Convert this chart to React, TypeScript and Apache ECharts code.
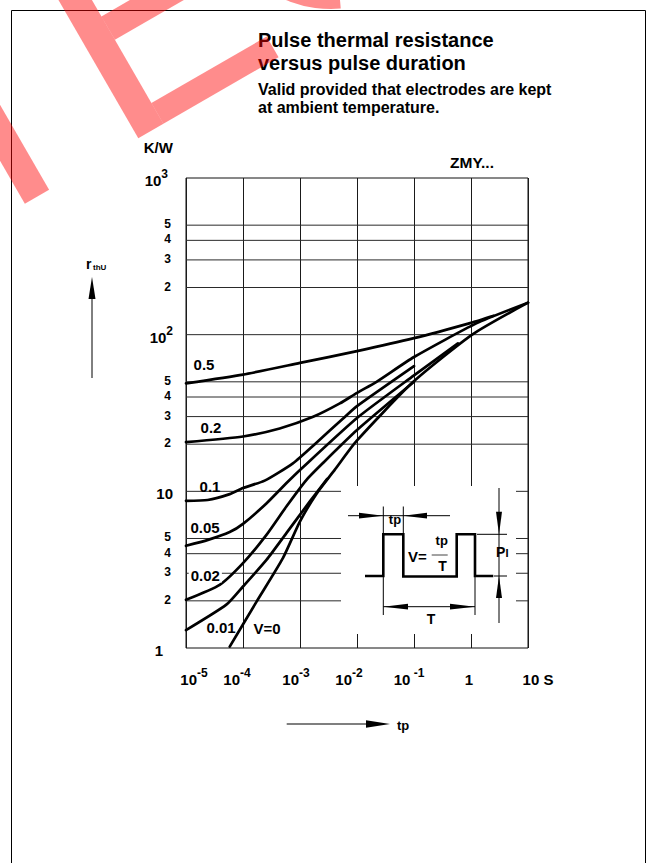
import React, { useEffect, useRef } from "react";
import * as echarts from "echarts";

const FONT = '"Liberation Sans", Arial, Helvetica, sans-serif';

// ---------- axis ranges ----------
const xMin = 1e-5;
const xMax = 10;
const yMin = 1;
const yMax = 1000;

// ---------- tick labels ----------
const xTickExps = [-5, -4, -3, -2, -1, 0, 1];
const xTickLabels = [["10", "-5"], ["10", "-4"], ["10", "-3"], ["10", "-2"], ["10", " -1"], ["1", ""], ["10 S", ""]];
const yTickExps = [0, 1, 2, 3];
const yTickLabels = [["1", ""], ["10", ""], ["10", "2"], ["10", "3"]];
const yMinorValues = [2, 3, 4, 5, 20, 30, 40, 50, 200, 300, 400, 500];
const yMinorLabels = ["2", "3", "4", "5", "2", "3", "4", "5", "2", "3", "4", "5"];
const yGridValues = [2, 3, 4, 5, 10, 20, 30, 40, 50, 100, 200, 300, 400, 500];

// ---------- curves (tp [s], r_thU [K/W]) ----------
const curveLabels = ["0.5", "0.2", "0.1", "0.05", "0.02", "0.01", "V=0"];
const v05 = [[1e-5, 48.9], [1e-4, 55.6], [1e-3, 66], [1e-2, 78.5], [1e-1, 95], [1, 119], [2.5, 132]];
const v02 = [[1e-5, 20.6], [1e-4, 22.4], [4.4e-4, 25.2], [1.7e-3, 29.9], [5e-3, 36.4], [1e-2, 42.5], [2.2e-2, 50], [0.1, 72], [1.24, 118], [10, 160]];
const v01 = [[1e-5, 8.7], [2.4e-5, 8.8], [5.85e-5, 9.6], [1e-4, 10.5], [2.4e-4, 11.7], [7.5e-4, 15.1], [1.9e-3, 20.3], [5.7e-3, 29.2], [1e-2, 35], [0.1, 63]];
const v005 = [[1e-5, 4.49], [2.43e-5, 4.9], [5.85e-5, 5.5], [1e-4, 6.2], [2.6e-4, 8.4], [5.8e-4, 11.3], [1e-3, 13.7], [1e-2, 29.4], [0.1, 55], [0.59, 88]];
const v002 = [[1e-5, 2.03], [3.9e-5, 2.53], [1e-4, 3.48], [2.58e-4, 5.27], [5.77e-4, 8.0], [1.29e-3, 11.8], [2.5e-3, 15.1], [1e-2, 24.6], [0.1, 50]];
const v001 = [[1e-5, 1.3], [5.1e-5, 1.89], [1e-4, 2.47], [2.58e-4, 3.65], [5.77e-4, 5.41], [1.48e-3, 8.6], [3e-3, 12.0]];
const v0 = [[5.85e-5, 1.02], [1.72e-4, 1.97], [5.04e-4, 3.76], [9.9e-4, 6.38], [1.94e-3, 9.62], [4.06e-3, 13.7], [9.75e-3, 20.9], [0.096, 49.8], [1.08, 100.7], [10, 160]];
const curves = [v05, v02, v01, v005, v002, v001, v0];

// ---------- layout (presentation only) ----------
const GRID = { left: 186, top: 178, right: 118, bottom: 215 };
const xLabelShift = [8, -6, -4, -8, -5, -2, 10];
const yLabelPadRight = [10, 0, 0, 5];
const curveLabelPos = [[204, 364], [211, 427.5], [210, 486], [205, 527.5], [205.3, 575], [221, 627], [267, 628]];

export default function App() {
  const ref = useRef<HTMLDivElement>(null);

  useEffect(() => {
    if (!ref.current) return;
    const chart = echarts.init(ref.current, null, { renderer: "svg" });

    const base = { fontWeight: "bold", fontFamily: FONT, color: "#000" };
    const xRich: any = {};
    xTickLabels.forEach((lab, i) => {
      const s = xLabelShift[i];
      const hasSup = lab[1] !== "";
      xRich["b" + i] = {
        ...base, fontSize: 15, lineHeight: 20, verticalAlign: "bottom",
        padding: [0, !hasSup && s < 0 ? -2 * s : 0, 0, s > 0 ? 2 * s : 0],
      };
      xRich["s" + i] = {
        ...base, fontSize: 12, lineHeight: 8, verticalAlign: "top",
        padding: [0, s < 0 ? -2 * s : 0, 0, 0],
      };
    });
    const yRich: any = {};
    yTickLabels.forEach((lab, i) => {
      const p = yLabelPadRight[i];
      const hasSup = lab[1] !== "";
      yRich["b" + i] = { ...base, fontSize: 15, lineHeight: 20, verticalAlign: "bottom", padding: [0, hasSup ? 0 : p, 0, 0] };
      yRich["s" + i] = { ...base, fontSize: 12, lineHeight: 8, verticalAlign: "top", padding: [0, p, 0, 0] };
    });

    const gridSeries = yGridValues.map((v) => ({
      type: "line",
      data: [[xMin, v], [xMax, v]],
      symbol: "none",
      silent: true,
      z: 1,
      lineStyle: { color: "#2a2a2a", width: 1 },
    }));
    const curveSeries = curves.map((d, i) => ({
      type: "line",
      name: curveLabels[i],
      data: d,
      symbol: "none",
      showSymbol: false,
      silent: true,
      smooth: 0.2,
      z: 5,
      lineStyle: { color: "#000", width: 2.7, cap: "round", join: "round" },
    }));

    const option: any = {
      animation: false,
      backgroundColor: "#fff",
      grid: { ...GRID, show: true, borderColor: "#111", borderWidth: 1, backgroundColor: "transparent" },
      xAxis: {
        type: "log",
        logBase: 10,
        min: xMin,
        max: xMax,
        axisLine: { show: false },
        axisTick: { show: false },
        splitLine: { show: true, lineStyle: { color: "#1a1a1a", width: 1 } },
        axisLabel: {
          show: true,
          margin: 19,
          showMinLabel: true,
          showMaxLabel: true,
          hideOverlap: false,
          rich: xRich,
          formatter: (v: number) => {
            const e = Math.round(Math.log10(v));
            const i = xTickExps.indexOf(e);
            if (i < 0) return "";
            const [b, s] = xTickLabels[i];
            return s ? `{b${i}|${b}}{s${i}|${s}}` : `{b${i}|${b}}`;
          },
        },
      },
      yAxis: {
        type: "log",
        logBase: 10,
        min: yMin,
        max: yMax,
        axisLine: { show: false },
        axisTick: { show: false },
        splitLine: { show: false },
        axisLabel: {
          show: true,
          margin: 13,
          showMinLabel: true,
          showMaxLabel: true,
          hideOverlap: false,
          rich: yRich,
          formatter: (v: number) => {
            const e = Math.round(Math.log10(v));
            const i = yTickExps.indexOf(e);
            if (i < 0) return "";
            const [b, s] = yTickLabels[i];
            return s ? `{b${i}|${b}}{s${i}|${s}}` : `{b${i}|${b}}`;
          },
        },
      },
      series: [...gridSeries, ...curveSeries],
    };
    chart.setOption(option);

    const txt = (text: string, x: number, y: number, size: number, align = "left", extra: any = {}) => ({
      type: "text",
      z: 12,
      silent: true,
      style: { text, x, y, font: `bold ${size}px ${FONT}`, fill: "#000", align, verticalAlign: "middle", ...extra },
    });
    const ln = (x1: number, y1: number, x2: number, y2: number, w = 1, c = "#000") => ({
      type: "line",
      z: 11,
      silent: true,
      shape: { x1, y1, x2, y2 },
      style: { stroke: c, lineWidth: w },
    });
    const poly = (pts: number[][]) => ({
      type: "polygon",
      z: 11,
      silent: true,
      shape: { points: pts },
      style: { fill: "#000" },
    });

    const minorLabels = yMinorValues.map((v, i) => {
      const p = chart.convertToPixel({ gridIndex: 0 }, [xMin, v]) as number[];
      return txt(yMinorLabels[i], 171, p[1] - 1, 12, "right");
    });

    const curveTexts = curveLabels.map((t, i) =>
      txt(t, curveLabelPos[i][0], curveLabelPos[i][1], 15, "center",
        t === "0.02" ? { backgroundColor: "#fff", padding: [0, 2] } : {})
    );

    const inset = [
      { type: "rect", z: 10, silent: true, shape: { x: 341, y: 486, width: 175, height: 148 }, style: { fill: "#fff" } },
      // tp dimension
      ln(348, 515.7, 450, 515.7),
      ln(383.3, 506.5, 383.3, 534.3),
      ln(403.3, 506.5, 403.3, 534.3),
      poly([[359, 512.8], [383.3, 515.7], [359, 518.6]]),
      poly([[427, 512.8], [403.3, 515.7], [427, 518.6]]),
      txt("tp", 395, 519.5, 13, "center"),
      // pulse waveform
      {
        type: "polyline", z: 11, silent: true,
        shape: { points: [[365, 576], [383.3, 576], [383.3, 534.3], [403.3, 534.3], [403.3, 576.5], [456.7, 576.5], [456.7, 534.3], [475, 534.3], [475, 576], [493.3, 576]] },
        style: { stroke: "#000", lineWidth: 2.6, fill: null, lineJoin: "miter" },
      },
      // V = tp / T
      txt("V=", 417.5, 556.5, 15, "center"),
      txt("tp", 441.7, 540.5, 13, "center"),
      ln(431.7, 555, 447.7, 555, 1, "#444"),
      txt("T", 442.5, 566, 14, "center"),
      // T dimension
      ln(383.3, 577, 383.3, 615),
      ln(475, 577, 475, 615),
      ln(383.3, 606.7, 475, 606.7),
      poly([[408, 603.8], [383.3, 606.7], [408, 609.6]]),
      poly([[450, 603.8], [475, 606.7], [450, 609.6]]),
      txt("T", 431, 618.5, 14, "center"),
      // PI dimension
      ln(499, 488, 499, 623),
      poly([[496, 511.7], [499, 534.3], [502, 511.7]]),
      poly([[496, 598], [499, 576], [502, 598]]),
      ln(477, 534.3, 507, 534.3),
      ln(494, 576, 507, 576),
      txt("P", 496, 552, 14, "left"),
      txt("I", 505.5, 553, 11, "left"),
    ];

    const frame = [
      ln(11.5, 10.5, 645.5, 10.5),
      ln(11.5, 10.5, 11.5, 863),
      ln(645.5, 10.5, 645.5, 863),
    ];

    const headings = [
      txt("Pulse thermal resistance", 258, 40, 20),
      txt("versus pulse duration", 258, 63, 20),
      txt("Valid provided that electrodes are kept", 258, 89.3, 16),
      txt("at ambient temperature.", 258, 107.2, 16),
      txt("K/W", 158.3, 147.5, 15, "center"),
      txt("ZMY...", 472, 162, 15.5, "center"),
      txt("r", 86, 264, 14),
      txt("thU", 93, 267, 8),
      ln(92, 378, 92, 296),
      poly([[88.5, 299], [92, 277], [95.5, 299]]),
      ln(286.7, 724, 368, 724, 1.5, "#555"),
      poly([[366, 720.3], [390, 724], [366, 727.7]]),
      txt("tp", 397, 725, 13),
    ];

    const red = "rgba(255,0,0,0.45)";
    const wr = (x: number, y: number, width: number, height: number) => ({
      type: "rect", z: 50, silent: true, shape: { x, y, width, height }, style: { fill: red },
    });
    const watermark = {
      type: "group",
      x: 138.3,
      y: 138.3,
      rotation: Math.PI / 6,
      silent: true,
      children: [
        wr(-131, -240, 28, 240),
        wr(0, -240, 29, 240),
        wr(29, -24, 133, 24),
        wr(29, -124, 112, 27),
        wr(29, -240, 128, 25),
        {
          type: "sector", z: 50, silent: true,
          shape: { cx: 290, cy: -117, r: 117, r0: 90, startAngle: Math.PI * 0.64, endAngle: Math.PI * 1.2 },
          style: { fill: red },
        },
      ],
    };

    chart.setOption({
      graphic: { elements: [...frame, ...headings, ...minorLabels, ...curveTexts, ...inset, watermark] },
    });

    return () => chart.dispose();
  }, []);

  return (
    <div
      ref={ref}
      style={{ position: "absolute", left: 0, top: 0, width: 646, height: 863, background: "#fff" }}
    />
  );
}
